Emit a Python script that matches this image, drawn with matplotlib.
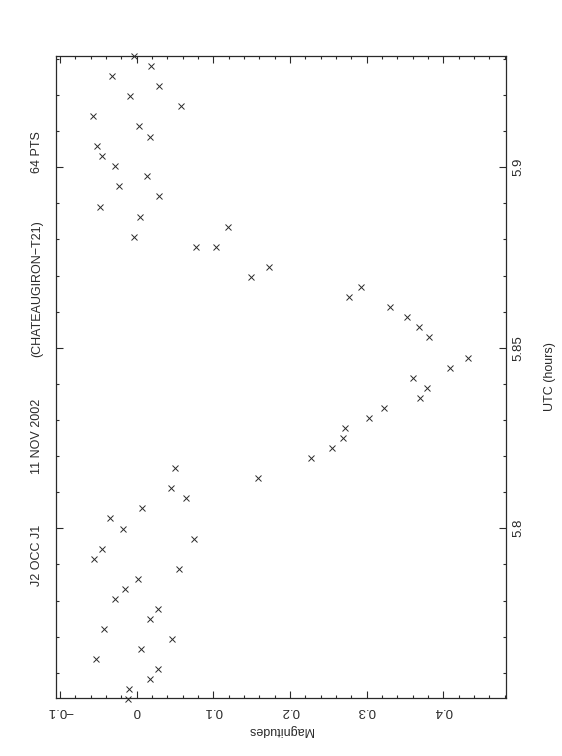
import numpy as np
import matplotlib
matplotlib.use("Agg")
import matplotlib.pyplot as plt
from matplotlib.ticker import MultipleLocator

# light curve of the occultation (64 points)
utc = [
    5.9308, 5.9280, 5.9252, 5.9225, 5.9197, 5.9169, 5.9141, 5.9113,
    5.9085, 5.9058, 5.9030, 5.9002, 5.8975, 5.8947, 5.8919, 5.8891,
    5.8863, 5.8834, 5.8806, 5.8779, 5.8779, 5.8723, 5.8696, 5.8668,
    5.8640, 5.8613, 5.8585, 5.8557, 5.8530, 5.8473, 5.8445, 5.8417,
    5.8389, 5.8361, 5.8333, 5.8305, 5.8277, 5.8249, 5.8221, 5.8194,
    5.8166, 5.8138, 5.8111, 5.8083, 5.8055, 5.8028, 5.7999, 5.7971,
    5.7944, 5.7915, 5.7887, 5.7860, 5.7832, 5.7804, 5.7777, 5.7749,
    5.7721, 5.7694, 5.7667, 5.7638, 5.7610, 5.7582, 5.7554, 5.7527,
]
mag = [
    -0.0035, 0.0187, -0.0322, 0.0295, -0.0087, 0.0582, -0.0566, 0.0034,
    0.0174, -0.0517, -0.0456, -0.0279, 0.0131, -0.0227, 0.0295, -0.0478,
    0.0047, 0.1185, -0.0031, 0.0770, 0.1037, 0.1729, 0.1491, 0.2922,
    0.2766, 0.3304, 0.3530, 0.3678, 0.3809, 0.4322, 0.4091, 0.3600,
    0.3783, 0.3692, 0.3222, 0.3026, 0.2713, 0.2695, 0.2544, 0.2278,
    0.0496, 0.1579, 0.0444, 0.0643, 0.0070, -0.0348, -0.0178, 0.0752,
    -0.0452, -0.0557, 0.0556, 0.0017, -0.0152, -0.0283, 0.0278, 0.0174,
    -0.0422, 0.0465, 0.0060, -0.0530, 0.0278, 0.0174, -0.0100, -0.0109,
]

mag_ticks = [-0.1, 0.0, 0.1, 0.2, 0.3, 0.4]
mag_labels = ["\u22120.1", "0", "0.1", "0.2", "0.3", "0.4"]
utc_ticks = [5.80, 5.85, 5.90]
utc_labels = ["5.8", "5.85", "5.9"]
title_parts = ["J2 OCC J1", "11 NOV 2002", "(CHATEAUGIRON\u2212T21)", "64 PTS"]

plt.rcParams["font.family"] = ["Liberation Sans", "DejaVu Sans"]
ink = "#2a2a2a"

fig = plt.figure(figsize=(5.62, 7.56), dpi=100)
ax = fig.add_axes([56 / 562, 1 - 698 / 756, (505.7 - 56) / 562, (698 - 56) / 756])

# page is rotated: magnitude runs across, time runs up
ax.plot(mag, utc, ls="none", marker="x", ms=4.0, mew=0.7, color=ink, clip_on=False)

ax.set_xlim(-0.1052, 0.4813)
ax.set_ylim(5.7530, 5.9308)

ax.set_xticks(mag_ticks)
ax.set_xticklabels(mag_labels)
ax.xaxis.set_minor_locator(MultipleLocator(0.02))
ax.set_yticks(utc_ticks)
ax.set_yticklabels(utc_labels)
ax.yaxis.set_minor_locator(MultipleLocator(0.01))

ax.tick_params(which="both", direction="in", top=True, bottom=True, left=True, right=True,
               labelleft=False, labeltop=False, labelright=True, labelbottom=True,
               color=ink, width=0.8)
ax.tick_params(which="major", length=5)
ax.tick_params(which="minor", length=2.5)
ax.tick_params(axis="x", labelrotation=180, pad=5, labelsize=9.5, labelcolor=ink)
ax.tick_params(axis="y", labelrotation=90, pad=5, labelsize=9.5, labelcolor=ink)
for lab in ax.get_yticklabels():
    lab.set_va("center")

for sp in ax.spines.values():
    sp.set_linewidth(0.9)
    sp.set_color(ink)

ax.set_xlabel("Magnitudes", rotation=180, fontsize=9, color=ink, labelpad=5)
ax.yaxis.set_label_position("right")
ax.set_ylabel("UTC (hours)", rotation=90, fontsize=9, color=ink, labelpad=14)

# title line, written sideways down the left margin
title_y = [555, 436, 289, 152]
for txt, yp in zip(title_parts, title_y):
    fig.text(37 / 562, 1 - yp / 756, txt, rotation=90, ha="center", va="center",
             fontsize=9, color=ink)

fig.savefig("out.png", dpi=100)
